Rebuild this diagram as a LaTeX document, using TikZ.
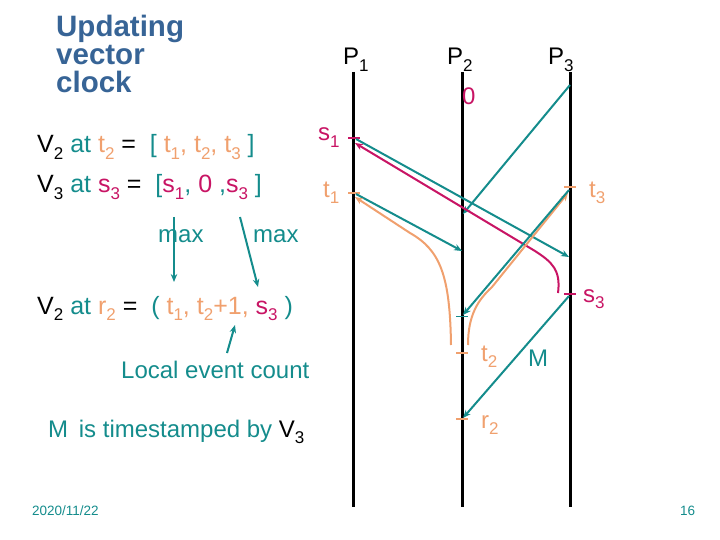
\documentclass[tikz,border=0pt]{standalone}
\usepackage{fontspec}
\setmainfont{Liberation Sans}
\usetikzlibrary{arrows.meta}
\definecolor{tl}{RGB}{20,140,140}
\definecolor{orng}{RGB}{240,160,110}
\definecolor{mag}{RGB}{200,20,100}
\definecolor{ttl}{RGB}{55,100,150}
\newcommand{\lsub}[1]{\raisebox{-0.27em}{\fontsize{17}{17}\selectfont #1}}
\begin{document}
\begin{tikzpicture}[x=1pt,y=-1pt,
  proc/.style={line width=3pt,black},
  msg/.style={line width=2pt,-{Stealth[length=8pt,width=6.5pt]}},
  tickmark/.style={line width=2.5pt},
  txt/.style={inner sep=0pt,anchor=base west,font=\fontsize{24}{28}\selectfont},
  eqtxt/.style={inner sep=0pt,anchor=base west,font=\fontsize{25}{28}\selectfont},
  ttlt/.style={inner sep=0pt,anchor=base west,text=ttl,text height=20pt,text depth=5pt,font=\bfseries\fontsize{29.5}{27}\selectfont},
  small/.style={inner sep=0pt,anchor=base west,text=tl,font=\fontsize{13.5}{15}\selectfont}]
\useasboundingbox (0,0) rectangle (720,540);

% title
\node[ttlt] (ti1) at (56,37) {Updating};
\node[ttlt] (ti2) at (56,65) {vector};
\node[ttlt] (ti3) at (56,93) {clock};

% process lines
\coordinate (P1t) at (353,72); \coordinate (P1b) at (353,507);
\coordinate (P2t) at (462,72); \coordinate (P2b) at (462,507);
\coordinate (P3t) at (570,72); \coordinate (P3b) at (570,507);
\draw[proc] (P1t) -- (P1b);
\draw[proc] (P2t) -- (P2b);
\draw[proc] (P3t) -- (P3b);
\node[txt] (lp1) at (343,65) {P\lsub{1}};
\node[txt] (lp2) at (447,65) {P\lsub{2}};
\node[txt] (lp3) at (548,65) {P\lsub{3}};
\node[txt,text=mag] (zero) at (462,105) {0};

% events
\coordinate (s1) at (354,138);
\coordinate (t1) at (354,193);
\coordinate (t3) at (570,187);
\coordinate (s3) at (570,294);
\coordinate (t2) at (462,353);
\coordinate (r2) at (462,419);
\coordinate (p2c) at (462,316);
\draw[tickmark,mag] ([xshift=-6pt]s1) -- ([xshift=6pt]s1);
\draw[tickmark,orng] ([xshift=-6pt]t1) -- ([xshift=6pt]t1);
\draw[tickmark,orng] ([xshift=-6pt]t3) -- ([xshift=6pt]t3);
\draw[tickmark,mag] ([xshift=-6pt]s3) -- ([xshift=6pt]s3);
\draw[tickmark,orng] ([xshift=-6pt]t2) -- ([xshift=6pt]t2);
\draw[tickmark,orng] ([xshift=-6pt]r2) -- ([xshift=6pt]r2);
\draw[line width=1pt,tl] ([xshift=-6pt]p2c) -- ([xshift=6pt]p2c);

\node[txt,text=mag] (ls1) at (318,141) {s\lsub{1}};
\node[txt,text=orng] (lt1) at (323,197) {t\lsub{1}};
\node[txt,text=orng] (lt3) at (589,197) {t\lsub{3}};
\node[txt,text=mag] (ls3) at (583,302) {s\lsub{3}};
\node[txt,text=orng] (lt2) at (481,361) {t\lsub{2}};
\node[txt,text=orng] (lr2) at (481,428) {r\lsub{2}};
\node[txt,text=tl] (lM) at (528,366) {M};

% messages
\coordinate (a1s) at (570,85);   \coordinate (a1e) at (463,214);
\coordinate (a2s) at (356,139);  \coordinate (a2e) at (569,257);
\coordinate (a3s) at (356,194);  \coordinate (a3e) at (462,251);
\coordinate (a4s) at (569,190);  \coordinate (a4e) at (463,315);
\coordinate (a5s) at (569,296);  \coordinate (a5e) at (463,418);
\coordinate (m1s) at (558,293);  \coordinate (m1k) at (535,251); \coordinate (m1e) at (355,143);
\coordinate (o1s) at (451,345);  \coordinate (o1k) at (410,233); \coordinate (o1e) at (355,197);
\coordinate (o2s) at (468,345);  \coordinate (o2k) at (492,287); \coordinate (o2e) at (568,193);

\draw[msg,tl] (a1s) -- (a1e);
\draw[msg,tl] (a2s) -- (a2e);
\draw[msg,tl] (a3s) -- (a3e);
\draw[msg,mag] (m1s) .. controls (561,270) and (552,262) .. (m1k) -- (m1e);
\draw[msg,orng] (o1s) .. controls (450,275) and (440,250) .. (o1k) -- (o1e);
\draw[msg,orng] (o2s) .. controls (468,315) and (478,300) .. (o2k) -- (o2e);
\draw[msg,tl] (a4s) -- (a4e);
\draw[msg,tl] (a5s) -- (a5e);

% left text
\node[eqtxt] (l1) at (37,153) {V\lsub{2} \textcolor{tl}{at} \textcolor{orng}{t\lsub{2}} = \ \textcolor{tl}{[} \textcolor{orng}{t\lsub{1}, t\lsub{2}, t\lsub{3}} \textcolor{tl}{]}};
\node[eqtxt] (l2) at (37,193) {V\lsub{3} \textcolor{tl}{at} \textcolor{mag}{s\lsub{3}} = \ \textcolor{tl}{[}\textcolor{mag}{s\lsub{1}}\textcolor{tl}{,} \textcolor{mag}{0} \textcolor{tl}{,}\textcolor{mag}{s\lsub{3}} \textcolor{tl}{]}};
\node[txt,text=tl] (mx1) at (158,243) {max};
\node[txt,text=tl] (mx2) at (253,243) {max};
\coordinate (x1s) at (174,217); \coordinate (x1e) at (174,282);
\coordinate (x2s) at (240,217); \coordinate (x2e) at (258,287);
\draw[msg,tl] (x1s) -- (x1e);
\draw[msg,tl] (x2s) -- (x2e);
\node[eqtxt] (l3) at (37,314) {V\lsub{2} \textcolor{tl}{at} \textcolor{orng}{r\lsub{2}} = \ \textcolor{tl}{(} \textcolor{orng}{t\lsub{1}, t\lsub{2}+1,} \textcolor{mag}{s\lsub{3}} \textcolor{tl}{)}};
\coordinate (lcs) at (227,353); \coordinate (lce) at (235,325);
\draw[msg,tl] (lcs) -- (lce);
\node[txt,text=tl] (lec) at (121,378) {Local event count};
\node[txt] (mts) at (48,437) {\textcolor{tl}{M\, is timestamped by} V\lsub{3}};

% footer
\node[small] (date) at (32,515) {2020/11/22};
\node[small] (pg) at (680,515) {16};
\end{tikzpicture}
\end{document}
